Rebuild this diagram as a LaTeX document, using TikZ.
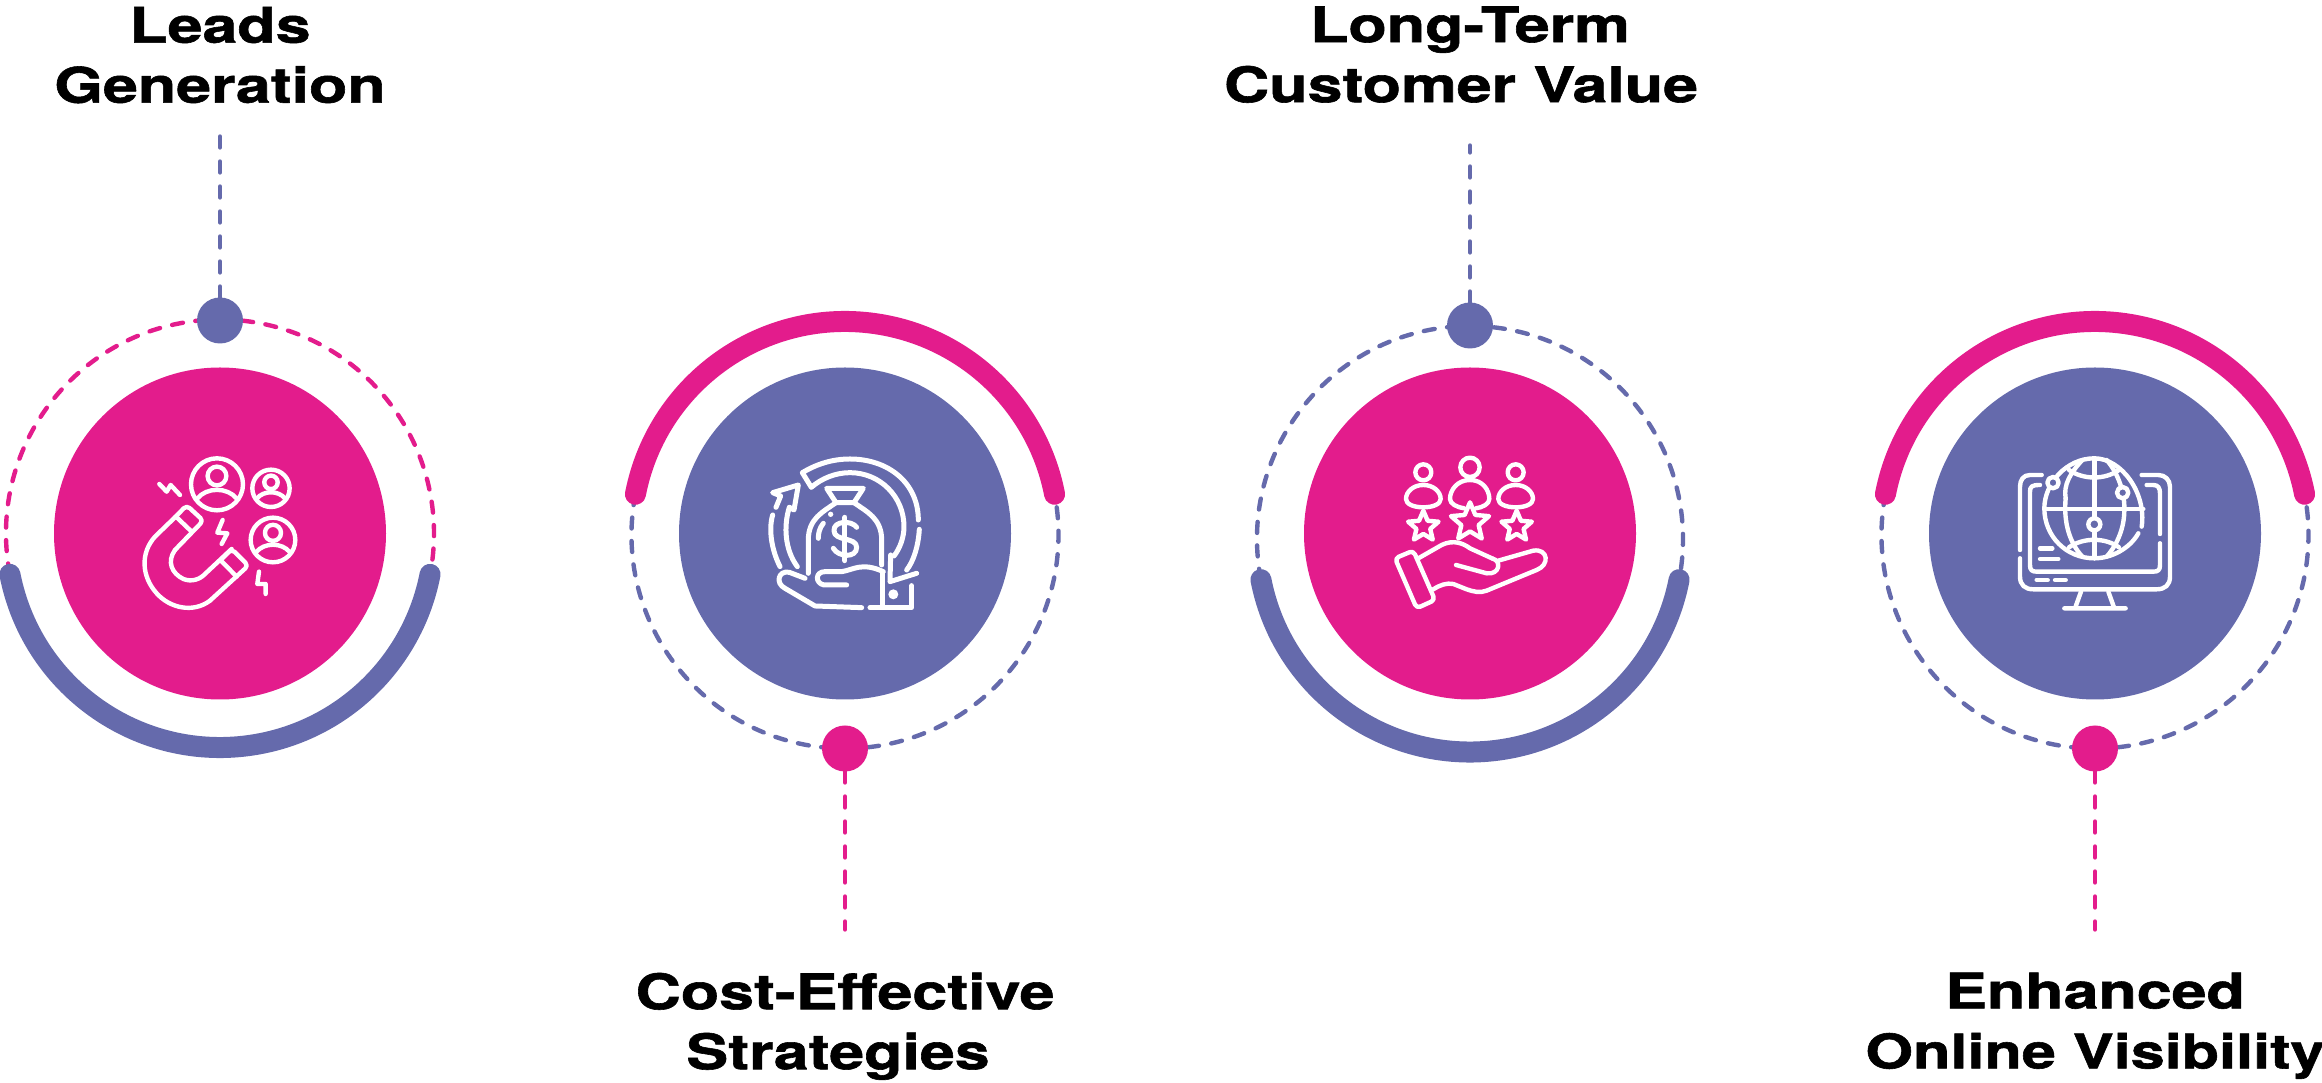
\documentclass[tikz,border=0pt]{standalone}
\usepackage{fontspec}
\usepackage{tikz}
\usetikzlibrary{calc, positioning, shapes.geometric}
\setmainfont{TeX Gyre Heros}[BoldFeatures={FakeStretch=1.28, FakeBold=1.2}]

\definecolor{hotpink}{HTML}{E31C8C}
\definecolor{slateblue}{HTML}{656AAC}

\tikzset{
  hub/.style={circle, minimum size=332pt, inner sep=0pt, outer sep=0pt},
  dot/.style={circle, minimum size=46pt, inner sep=0pt, outer sep=0pt},
  ring/.style={line width=4.4pt, line cap=round, dash pattern=on 11pt off 12.5pt},
  stem/.style={line width=4.4pt, line cap=round, dash pattern=on 11pt off 14pt},
  band/.style={line width=21pt, line cap=round},
  caption/.style={align=center, inner sep=0pt, font=\bfseries\fontsize{49pt}{60pt}\selectfont},
  icon/.style={white, line width=4.4pt, line cap=round, line join=round},
  tiny/.style={x=0.3333pt, y=-0.3333pt}
}

\begin{document}
\begin{tikzpicture}[x=1pt, y=1pt]
  \useasboundingbox (0,0) rectangle (2322,1082);

  \node[hub, fill=hotpink]   (leads)  at (220,548.5)         {};
  \node[hub, fill=slateblue] (cost)   [right=293pt of leads] {};
  \node[hub, fill=hotpink]   (value)  [right=293pt of cost]  {};
  \node[hub, fill=slateblue] (online) [right=293pt of value] {};

  % rings
  \draw[ring, hotpink]   ($(leads)+(191:214pt)$)         arc (191:-11:214pt);
  \draw[ring, slateblue] ($(cost)+(0,-1.5)+(169:213.5pt)$)   arc (169:371:213.5pt);
  \draw[ring, slateblue] ($(value)+(0,-5.5)+(191:213pt)$)  arc (191:-11:213pt);
  \draw[ring, slateblue] ($(online)+(0,-1.5)+(169:213.5pt)$) arc (169:371:213.5pt);

  \draw[band, slateblue] ($(leads)+(191:214pt)$)         arc (191:349:214pt);
  \draw[band, hotpink]   ($(cost)+(0,-1.5)+(169:213.5pt)$)   arc (169:11:213.5pt);
  \draw[band, slateblue] ($(value)+(0,-5.5)+(191:213pt)$)  arc (191:349:213pt);
  \draw[band, hotpink]   ($(online)+(0,-1.5)+(169:213.5pt)$) arc (169:11:213.5pt);

  \node[dot, fill=slateblue] (leadsDot)  [above=24pt of leads]  {};
  \node[dot, fill=hotpink]   (costDot)   [below=26pt of cost]   {};
  \node[dot, fill=slateblue] (valueDot)  [above=19pt of value]  {};
  \node[dot, fill=hotpink]   (onlineDot) [below=26pt of online] {};

  \coordinate[above=161pt of leadsDot]  (leadsEnd);
  \coordinate[below=158pt of costDot]   (costEnd);
  \coordinate[above=157pt of valueDot]  (valueEnd);
  \coordinate[below=158pt of onlineDot] (onlineEnd);

  \draw[stem, slateblue] (leadsDot)  -- (leadsEnd);
  \draw[stem, hotpink]   (costDot)   -- (costEnd);
  \draw[stem, slateblue] (valueDot)  -- (valueEnd);
  \draw[stem, hotpink]   (onlineDot) -- (onlineEnd);

  \node[caption] (leadsText)  [above=33pt of leadsEnd]  {Leads\\Generation};
  \node[caption] (costText)   [below=43pt of costEnd]   {Cost-Effective\\Strategies\hspace*{14pt}};
  \node[caption] (valueText)  [above=42.5pt of valueEnd]  {Long-Term\\Customer Value\hspace*{18pt}};
  \node[caption] (onlineText) [below=43pt of onlineEnd] {Enhanced\\{\fontsize{47.8pt}{60pt}\selectfont Online Visibility}};

  % magnet icon
  \begin{scope}[shift={(120,652)}, tiny, icon]
    \draw[rounded corners=4pt] (165,262) -- (200,226) -- (250,272) -- (165,360);
    \draw (165,360) .. controls (140,395) and (155,430) .. (190,447)
                    .. controls (215,457) and (240,448) .. (255,432) -- (335,357);
    \draw[rounded corners=4pt] (300,392) -- (335,357) -- (385,407) -- (270,512);
    \draw (270,512) .. controls (220,550) and (150,535) .. (110,490)
                    .. controls (65,440) and (60,370) .. (105,320) -- (165,262);
    \draw (170,262) -- (215,305) (303,392) -- (350,440);
    \draw (118,162) -- (140,185) -- (152,165) -- (180,195);
    \draw (308,270) -- (292,308) -- (322,310) -- (305,342);
    \draw (417,425) -- (412,462) -- (437,462) -- (437,492);
    \foreach \cx/\cy/\rr in {291/163/78, 453/175/56, 459/330/67} {
      \draw (\cx,\cy) circle (\rr);
      \draw (\cx,\cy-0.32*\rr) circle (0.36*\rr);
      \draw (\cx-0.76*\rr,\cy+0.55*\rr) .. controls (\cx-0.4*\rr,\cy+0.1*\rr) and (\cx+0.4*\rr,\cy+0.1*\rr) .. (\cx+0.76*\rr,\cy+0.55*\rr);
    }
  \end{scope}

  % money bag icon
  \begin{scope}[shift={(750,652)}, tiny, icon, line width=5pt]
    \draw (505,270) .. controls (505,157) and (413,87) .. (300,87)
                    .. controls (248,87) and (200,102) .. (157,128) -- (184,172)
                    .. controls (215,145) and (257,128) .. (300,128)
                    .. controls (390,128) and (462,200) .. (462,290)
                    .. controls (462,322) and (450,355) .. (432,378);
    \draw (508,298) .. controls (505,350) and (490,395) .. (470,420);
    \draw (500,430) -- (420,455) -- (422,375);
    \draw (90,410) .. controls (65,360) and (55,300) .. (68,255);
    \draw (78,232) -- (92,198) -- (68,188) -- (145,165) -- (132,240) -- (118,232);
    \draw (118,232) .. controls (100,290) and (105,360) .. (142,410);
    \draw (230,175) -- (340,175) -- (312,218) -- (258,218) -- cycle;
    \draw (258,218) .. controls (220,245) and (175,265) .. (175,330) -- (175,430);
    \draw (312,218) .. controls (350,245) and (395,265) .. (395,330) -- (395,405);
    \draw (220,280) .. controls (208,295) and (205,310) .. (205,325);
    \fill (242,253) circle (8);
    \draw (320,292) .. controls (305,270) and (250,272) .. (252,302)
                    .. controls (252,335) and (320,320) .. (320,352)
                    .. controls (320,385) and (265,382) .. (250,355);
    \draw (285,262) -- (285,392);
    \draw (290,465) -- (222,465) .. controls (195,460) and (195,425) .. (225,425) -- (275,425)
                    .. controls (310,420) and (335,395) .. (400,425);
    \draw (165,445) -- (118,427) .. controls (85,420) and (75,460) .. (105,475)
                    -- (195,528) -- (335,533);
    \draw (360,533) -- (485,533) -- (485,467);
    \draw (398,430) -- (398,530);
    \fill (430,493) circle (15);
  \end{scope}

  % rated customers icon
  \begin{scope}[shift={(1370,652)}, tiny, icon]
    \draw (300,112) circle (29);
    \draw (160,127) circle (24);
    \draw (437,127) circle (24);
    \draw (300,150) .. controls (262,150) and (240,180) .. (240,207)
                    .. controls (240,222) and (262,232) .. (282,235);
    \draw (300,150) .. controls (338,150) and (358,180) .. (358,207)
                    .. controls (358,222) and (338,232) .. (318,235);
    \foreach \cx in {160,437} {
      \draw (\cx,165) .. controls (\cx-30,165) and (\cx-52,185) .. (\cx-52,207)
                      .. controls (\cx-52,222) and (\cx-30,232) .. (\cx,232)
                      .. controls (\cx+30,232) and (\cx+52,222) .. (\cx+52,207)
                      .. controls (\cx+52,185) and (\cx+30,165) .. (\cx,165);
    }
    \node[star, star points=5, star point ratio=2.2, draw, minimum size=32pt, inner sep=0pt] (starOne) at (160,290) {};
    \node[star, star points=5, star point ratio=2.2, draw, minimum size=40pt, inner sep=0pt] (starTwo) at (300,277) {};
    \node[star, star points=5, star point ratio=2.2, draw, minimum size=32pt, inner sep=0pt] (starThree) at (440,290) {};
    \draw[rounded corners=4pt] (75,385) -- (130,362) -- (195,510) -- (140,535) -- cycle;
    \draw (145,385) -- (215,345) .. controls (250,328) and (280,340) .. (300,355) -- (368,386);
    \draw (258,405) -- (350,430) .. controls (390,435) and (395,392) .. (368,386);
    \draw (385,392) -- (490,362) .. controls (535,355) and (540,405) .. (500,420)
                    -- (350,482) .. controls (330,490) and (310,485) .. (290,478)
                    -- (250,462) .. controls (230,458) and (210,465) .. (190,478);
  \end{scope}

  % globe on screen icon
  \begin{scope}[shift={(1995,652)}, tiny, icon]
    \draw (440,290) .. controls (455,190) and (380,85) .. (298,85)
                    .. controls (215,85) and (148,160) .. (148,235)
                    .. controls (148,320) and (215,385) .. (298,385)
                    .. controls (350,385) and (405,355) .. (430,310);
    \draw (298,85) -- (298,385);
    \draw (150,237) -- (445,237);
    \draw (262,90) .. controls (225,130) and (205,165) .. (212,205);
    \draw (212,205) .. controls (205,280) and (225,340) .. (262,380);
    \draw (335,90) .. controls (370,130) and (390,190) .. (388,240)
                    .. controls (388,290) and (370,340) .. (335,380);
    \draw (222,120) .. controls (265,150) and (330,150) .. (372,120);
    \draw (222,352) .. controls (265,322) and (330,322) .. (372,352);
    \draw[fill=slateblue] (174,158) circle (17);
    \draw[fill=slateblue] (383,188) circle (17);
    \draw[fill=slateblue] (298,283) circle (18);
    \draw (140,135) -- (105,135) .. controls (85,135) and (75,150) .. (75,170) -- (75,360);
    \draw (75,385) -- (75,440) .. controls (75,465) and (90,478) .. (115,478) -- (485,478)
                   .. controls (510,478) and (525,465) .. (525,440) -- (525,170)
                   .. controls (525,150) and (510,135) .. (490,135) -- (440,135);
    \draw (455,165) -- (475,165) .. controls (490,165) and (495,175) .. (495,190) -- (495,312);
    \draw (495,340) -- (495,405) .. controls (495,420) and (490,425) .. (475,425) -- (125,425)
                    .. controls (110,425) and (105,420) .. (105,405) -- (105,185)
                    .. controls (105,170) and (110,165) .. (135,165);
    \draw (135,355) -- (172,355) (135,387) -- (190,387);
    \draw (125,450) -- (158,450) (180,450) -- (212,450);
    \draw (258,485) -- (240,535) (340,485) -- (358,535) (208,535) -- (392,535);
  \end{scope}
\end{tikzpicture}
\end{document}
